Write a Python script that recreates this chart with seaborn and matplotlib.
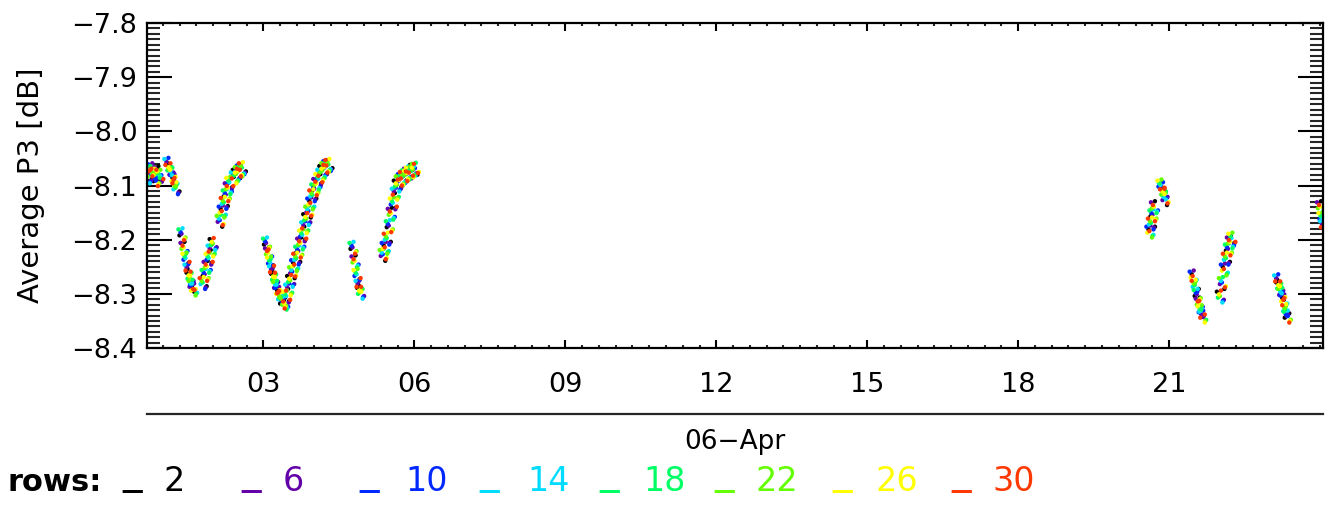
import matplotlib
matplotlib.use('Agg')
import seaborn as sns
import pandas as pd
import matplotlib.pyplot as plt
from matplotlib.ticker import MultipleLocator

# rows in the legend and the IDL rainbow colours they were drawn with
rows = [2, 6, 10, 14, 18, 22, 26, 30]
row_colors = ['#000000', '#6400a8', '#0028ff', '#00dcff',
              '#00ff64', '#64ff00', '#ffff00', '#ff3800']

# average P3 along each pass (hours of 06-Apr, dB)
hours = [
    0.70, 0.74, 0.78, 0.82, 0.86, 0.90, 0.94,
    1.10, 1.14, 1.18, 1.22, 1.26,
    1.38, 1.42, 1.46, 1.50, 1.54, 1.58, 1.61,
    1.80, 1.84, 1.88, 1.92, 1.96, 2.00,
    2.14, 2.18, 2.22, 2.26, 2.30, 2.33,
    2.42, 2.46, 2.50, 2.54, 2.58,
    3.06, 3.10, 3.14, 3.18, 3.22, 3.26, 3.30, 3.34, 3.38, 3.42, 3.46, 3.50, 3.54, 3.58, 3.62, 3.66,
    3.70, 3.74, 3.78, 3.82, 3.86, 3.90, 3.94, 3.98, 4.02, 4.06, 4.10, 4.14, 4.18, 4.22, 4.26, 4.30,
    4.78, 4.82, 4.86, 4.90, 4.93,
    5.38, 5.42, 5.46, 5.50, 5.54, 5.58, 5.62, 5.66, 5.70, 5.74, 5.78, 5.82, 5.86, 5.90, 5.94, 5.98, 6.02,
    20.62, 20.65, 20.68, 20.71,
    20.84, 20.87, 20.90, 20.92,
    21.48, 21.52, 21.56, 21.60, 21.64, 21.67,
    22.02, 22.06, 22.10, 22.14, 22.18, 22.22, 22.25,
    23.16, 23.20, 23.24, 23.28, 23.32, 23.35,
    24.01, 24.04, 24.07,
]
p3_db = [
    -8.085, -8.075, -8.070, -8.080, -8.090, -8.075, -8.082,
    -8.060, -8.070, -8.078, -8.090, -8.105,
    -8.190, -8.215, -8.235, -8.255, -8.270, -8.285, -8.292,
    -8.280, -8.265, -8.250, -8.235, -8.220, -8.208,
    -8.165, -8.148, -8.132, -8.118, -8.105, -8.095,
    -8.085, -8.080, -8.075, -8.072, -8.068,
    -8.207, -8.225, -8.242, -8.258, -8.272, -8.287, -8.298, -8.308, -8.316, -8.318, -8.305, -8.292, -8.276, -8.260, -8.247, -8.235,
    -8.222, -8.207, -8.192, -8.177, -8.162, -8.148, -8.133, -8.118, -8.107, -8.097, -8.088, -8.080, -8.073, -8.068, -8.064, -8.062,
    -8.215, -8.240, -8.265, -8.285, -8.298,
    -8.228, -8.215, -8.198, -8.175, -8.152, -8.133, -8.115, -8.100, -8.092, -8.088, -8.084, -8.081, -8.078, -8.076, -8.074, -8.071, -8.069,
    -8.185, -8.170, -8.155, -8.140,
    -8.100, -8.105, -8.115, -8.125,
    -8.268, -8.285, -8.302, -8.318, -8.332, -8.342,
    -8.305, -8.280, -8.255, -8.235, -8.218, -8.205, -8.198,
    -8.275, -8.288, -8.300, -8.312, -8.330, -8.342,
    -8.140, -8.160, -8.175,
]

# how far the single rows sit from the pass average (estimated band width)
spread_dt = [-0.07, 0.04, -0.03, 0.07, -0.05, 0.01, 0.05, -0.01]
spread_dv = [0.009, -0.011, 0.004, -0.006, -0.002, 0.011, -0.008, 0.001]

hour_ticks = [3, 6, 9, 12, 15, 18, 21]
hour_labels = ['03', '06', '09', '12', '15', '18', '21']
db_ticks = [-8.4, -8.3, -8.2, -8.1, -8.0, -7.9, -7.8]

records = []
for r, row in enumerate(rows):
    for i, (h, v) in enumerate(zip(hours, p3_db)):
        k = (i + 3 * r) % len(spread_dt)
        records.append({'row': row, 'hour': h + spread_dt[k], 'p3': v + spread_dv[k]})
df = pd.DataFrame(records)

sns.set_style('white')
plt.rcParams['font.family'] = ['DejaVu Sans']

fig = plt.figure(figsize=(13.35, 5.07), dpi=100)
ax = fig.add_axes([0.1101, 0.3136, 0.8809, 0.6410])

sns.scatterplot(data=df, x='hour', y='p3', hue='row',
                palette=dict(zip(rows, row_colors)), s=10, linewidth=0,
                marker='o', legend=False, ax=ax)

ax.set_xlim(0.684, 24.06)
ax.set_ylim(-8.4, -7.8)

ax.set_xticks(hour_ticks)
ax.set_xticklabels(hour_labels)
ax.xaxis.set_minor_locator(MultipleLocator(1 / 3))
ax.set_yticks(db_ticks)
ax.set_yticklabels([f'{t:.1f}'.replace('-', '\u2212') for t in db_ticks])
ax.yaxis.set_minor_locator(MultipleLocator(0.01))

for sp in ax.spines.values():
    sp.set_visible(True)
    sp.set_linewidth(1.6)
    sp.set_color('black')

ax.tick_params(axis='y', which='major', direction='in', length=18, width=1.5,
               left=True, right=True, labelsize=19.5, pad=7, colors='black')
ax.tick_params(axis='y', which='minor', direction='in', length=9.5, width=1.5,
               left=True, right=True)
ax.tick_params(axis='x', which='major', direction='in', length=6, width=1.5,
               bottom=True, top=True, labelsize=19.5, pad=17, colors='black')
ax.tick_params(axis='x', which='minor', direction='in', length=2.5, width=1.5,
               bottom=True, top=True)

ax.set_xlabel('')
ax.set_ylabel('Average P3 [dB]', fontsize=21, color='black')
ax.yaxis.set_label_coords(-0.087, 0.5)

# second (day) level of the time axis
sec = ax.secondary_xaxis(-0.203)
sec.set_xticks([])
sec.tick_params(length=0)
sec.spines['bottom'].set_linewidth(1.6)
sec.set_xlabel('06\u2212Apr', fontsize=19, labelpad=11, color='black')

# row colour key under the plot
fig.text(7 / 1335, 1 - 491 / 507, 'rows:', fontsize=22, fontweight='bold',
         color='black', va='baseline', ha='left')
dash_x = [122, 241, 359, 479, 599, 714, 832, 951]
num_x = [163, 283, 405, 527, 643, 755, 875, 992]
for row, color, dx, nx in zip(rows, row_colors, dash_x, num_x):
    fig.text(dx / 1335, 1 - 484 / 507, '_', fontsize=28, color=color,
             va='baseline', ha='left')
    fig.text(nx / 1335, 1 - 491 / 507, str(row), fontsize=24, color=color,
             va='baseline', ha='left')

fig.savefig('out.png', dpi=100)
